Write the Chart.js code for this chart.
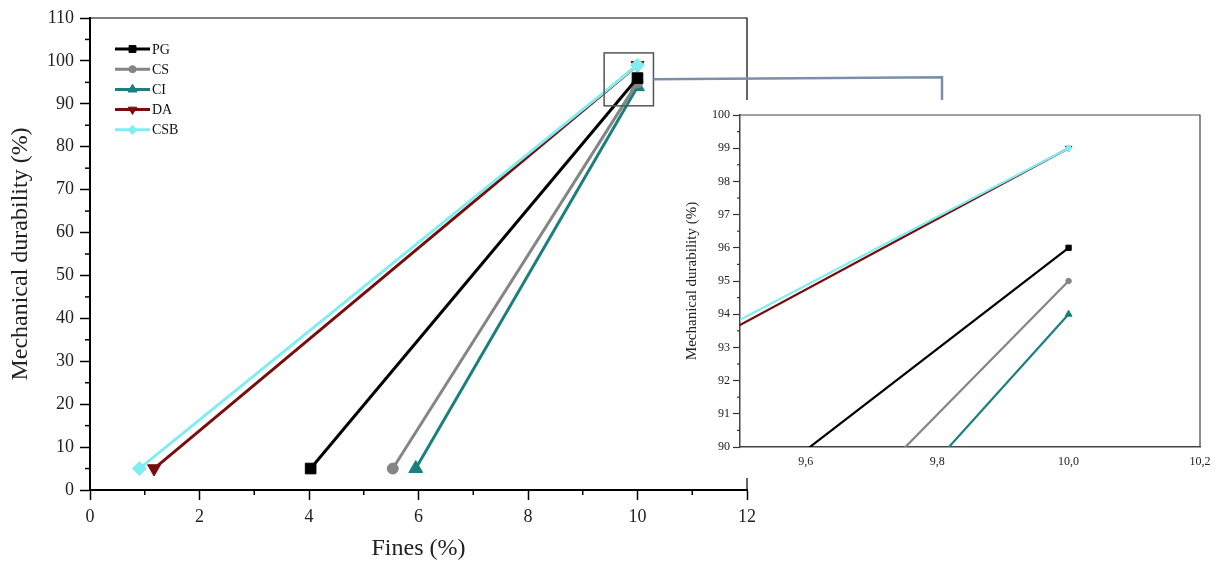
<!DOCTYPE html>
<html>
<head>
<meta charset="utf-8">
<script src="https://cdn.jsdelivr.net/npm/chart.js@4.4.1/dist/chart.umd.min.js"></script>
<style>
  html, body { margin: 0; padding: 0; background: #fff; }
  #wrap { position: relative; width: 1223px; height: 564px; }
  #main { position: absolute; left: 0; top: 0; }
  #inset-box { position: absolute; left: 680px; top: 100px; width: 543px; height: 378px; background: #fff; }
</style>
</head>
<body>
<div id="wrap">
  <canvas id="main" width="1223" height="564"></canvas>
  <div id="inset-box"><canvas id="inset" width="543" height="378"></canvas></div>
</div>
<script>
// ---- data ----
const seriesNames = ['PG', 'CS', 'CI', 'DA', 'CSB'];
const pgFines = [4.03, 10];   const pgDurability = [5, 96];
const csFines = [5.53, 10];   const csDurability = [5, 95];
const ciFines = [5.95, 10];   const ciDurability = [5, 94];
const daFines = [1.17, 10];   const daDurability = [5, 99];
const csbFines = [0.9, 10];   const csbDurability = [5, 99];

const mainXTicks = [0, 2, 4, 6, 8, 10, 12];
const mainYTicks = [0, 10, 20, 30, 40, 50, 60, 70, 80, 90, 100, 110];
const insetXTicks = [9.6, 9.8, 10.0, 10.2];
const insetYTicks = [90, 91, 92, 93, 94, 95, 96, 97, 98, 99, 100];
const insetXRange = [9.5, 10.2];
const insetYRange = [90, 100];

// ---- styles ----
const colors = ['#000000', '#858585', '#1b7f7f', '#7a0c0c', '#80eef0'];
const markers = ['rect', 'circle', 'triangle', 'triangle', 'rectRot'];
const markerRot = [0, 0, 0, 180, 0];
const markerSize = [7.5, 5.5, 8, 7.5, 7];
const serif = "'Liberation Serif', 'Times New Roman', serif";

const allFines = [pgFines, csFines, ciFines, daFines, csbFines];
const allDur = [pgDurability, csDurability, ciDurability, daDurability, csbDurability];

function makeDatasets(lineW, scale, isInset) {
  return seriesNames.map((name, i) => ({
    label: name,
    data: allFines[i].map((f, j) => ({ x: f, y: allDur[i][j] })),
    borderColor: colors[i],
    backgroundColor: colors[i],
    borderWidth: lineW,
    pointStyle: markers[i],
    rotation: markerRot[i],
    pointRadius: isInset ? allFines[i].map(f => f === 10 ? markerSize[i] * scale : 0) : markerSize[i] * scale,
    pointBorderWidth: 1,
    tension: 0,
    order: name === 'CSB' ? -1 : i,
    clip: isInset ? 0 : undefined,
  }));
}

// minor tick marks between the labelled ones
const minorTicks = {
  id: 'minorTicks',
  afterDraw(chart, args, opts) {
    const ctx = chart.ctx;
    const xs = chart.scales.x, ys = chart.scales.y;
    ctx.save();
    ctx.strokeStyle = opts.color || '#000';
    ctx.lineWidth = opts.width || 1.2;
    if (opts.xStep) {
      for (let v = xs.min; v <= xs.max + 1e-9; v += opts.xStep) {
        if (Math.abs(v / opts.xMajor - Math.round(v / opts.xMajor)) < 1e-6) continue;
        const px = xs.getPixelForValue(v);
        ctx.beginPath(); ctx.moveTo(px, ys.bottom); ctx.lineTo(px, ys.bottom + opts.len); ctx.stroke();
      }
    }
    if (opts.yStep) {
      for (let v = ys.min; v <= ys.max + 1e-9; v += opts.yStep) {
        if (Math.abs(v / opts.yMajor - Math.round(v / opts.yMajor)) < 1e-6) continue;
        const py = ys.getPixelForValue(v);
        ctx.beginPath(); ctx.moveTo(xs.left, py); ctx.lineTo(xs.left - opts.len, py); ctx.stroke();
      }
    }
    ctx.restore();
  }
};

// top / right lines of the box
const frame = {
  id: 'frame',
  afterDraw(chart, args, opts) {
    const { left, right, top, bottom } = chart.chartArea;
    const ctx = chart.ctx;
    ctx.save();
    ctx.strokeStyle = opts.color || '#000';
    ctx.lineWidth = opts.width || 1;
    ctx.beginPath();
    ctx.moveTo(left, top); ctx.lineTo(right, top); ctx.lineTo(right, bottom);
    ctx.stroke();
    ctx.restore();
  }
};

// legend inside the plot, drawn by hand
const insideLegend = {
  id: 'insideLegend',
  afterDraw(chart) {
    const ctx = chart.ctx;
    const x0 = 115, x1 = 150, y0 = 49, dy = 20.2;
    ctx.save();
    chart.data.datasets.forEach((ds, i) => {
      const y = y0 + i * dy;
      ctx.strokeStyle = ds.borderColor;
      ctx.lineWidth = 3;
      ctx.beginPath(); ctx.moveTo(x0, y); ctx.lineTo(x1, y); ctx.stroke();
      ctx.fillStyle = ds.backgroundColor;
      ctx.strokeStyle = ds.borderColor;
      ctx.lineWidth = 1;
      Chart.helpers.drawPoint(ctx, { pointStyle: ds.pointStyle, rotation: ds.rotation, radius: markerSize[i] * 0.65, borderWidth: 1 }, (x0 + x1) / 2, y);
      ctx.fillStyle = '#111';
      ctx.font = '14px ' + serif;
      ctx.textBaseline = 'middle';
      ctx.fillText(ds.label, x1 + 2, y + 1);
    });
    ctx.restore();
  }
};

// zoom box around the end points and the line to the inset
const zoomMark = {
  id: 'zoomMark',
  afterDraw(chart) {
    const xs = chart.scales.x, ys = chart.scales.y;
    const ctx = chart.ctx;
    const bx1 = xs.getPixelForValue(insetXRange[0]) - 6;
    const bx2 = xs.getPixelForValue(insetXRange[1]) + 5;
    const by1 = ys.getPixelForValue(insetYRange[1]) - 8;
    const by2 = ys.getPixelForValue(insetYRange[0]) + 2;
    ctx.save();
    ctx.strokeStyle = '#555';
    ctx.lineWidth = 1.5;
    ctx.strokeRect(bx1, by1, bx2 - bx1, by2 - by1);
    const midY = (by1 + by2) / 2;
    ctx.strokeStyle = '#7b8fa9';
    ctx.lineWidth = 2.5;
    ctx.beginPath();
    ctx.moveTo(bx2, midY);
    ctx.lineTo(942, midY - 2);
    ctx.lineTo(942, 100);
    ctx.stroke();
    ctx.restore();
  }
};

function fixedTicks(list) {
  return scale => { scale.ticks = list.map(v => ({ value: v })); };
}

new Chart(document.getElementById('main'), {
  type: 'line',
  data: { datasets: makeDatasets(3, 1, false) },
  options: {
    responsive: false,
    animation: false,
    devicePixelRatio: 1,
    layout: { padding: { left: 0, top: 18, right: 476, bottom: 0 } },
    plugins: {
      legend: { display: false },
      tooltip: { enabled: false },
      minorTicks: { xStep: 1, xMajor: 2, yStep: 5, yMajor: 10, len: 5, width: 1.5 },
      frame: { color: '#000', width: 1.2 },
    },
    scales: {
      x: {
        type: 'linear', min: 0, max: 12,
        afterBuildTicks: fixedTicks(mainXTicks),
        afterFit: s => { s.height = 74; },
        ticks: { color: '#222', font: { family: serif, size: 18 }, padding: 6 },
        grid: { drawOnChartArea: false, drawTicks: true, tickLength: 10, tickColor: '#000', tickWidth: 1.5 },
        border: { display: true, color: '#000', width: 2 },
        title: { display: true, text: 'Fines (%)', color: '#222', font: { family: serif, size: 24 }, padding: { top: 0, bottom: 1 } },
      },
      y: {
        type: 'linear', min: 0, max: 110,
        afterBuildTicks: fixedTicks(mainYTicks),
        afterFit: s => { s.width = 90; },
        ticks: { color: '#222', font: { family: serif, size: 18 }, padding: 6 },
        grid: { drawOnChartArea: false, drawTicks: true, tickLength: 10, tickColor: '#000', tickWidth: 1.5 },
        border: { display: true, color: '#000', width: 2 },
        title: { display: true, text: 'Mechanical durability (%)', color: '#222', font: { family: serif, size: 24 }, padding: { top: 6, bottom: 0 } },
      },
    },
  },
  plugins: [minorTicks, frame, insideLegend, zoomMark],
});

new Chart(document.getElementById('inset'), {
  type: 'line',
  data: { datasets: makeDatasets(2.2, 0.5, true) },
  options: {
    responsive: false,
    animation: false,
    devicePixelRatio: 1,
    layout: { padding: { left: 0, top: 15, right: 23, bottom: 0 } },
    plugins: {
      legend: { display: false },
      tooltip: { enabled: false },
      minorTicks: { yStep: 0.5, yMajor: 1, len: 3, width: 1.2, color: '#333' },
      frame: { color: '#444', width: 1.2 },
    },
    scales: {
      x: {
        type: 'linear', min: insetXRange[0], max: insetXRange[1],
        afterBuildTicks: fixedTicks(insetXTicks),
        afterFit: s => { s.height = 31; },
        ticks: { color: '#222', font: { family: serif, size: 12 }, padding: 8, callback: v => v.toFixed(1).replace('.', ',') },
        grid: { drawOnChartArea: false, drawTicks: false },
        border: { display: true, color: '#444', width: 1.5 },
      },
      y: {
        type: 'linear', min: insetYRange[0], max: insetYRange[1],
        afterBuildTicks: fixedTicks(insetYTicks),
        afterFit: s => { s.width = 60; },
        ticks: { color: '#222', font: { family: serif, size: 12 }, padding: 3 },
        grid: { drawOnChartArea: false, drawTicks: true, tickLength: 7, tickColor: '#333', tickWidth: 1.2 },
        border: { display: true, color: '#444', width: 1.5 },
        title: { display: true, text: 'Mechanical durability (%)', color: '#222', font: { family: serif, size: 15 }, padding: { top: 3, bottom: 0 } },
      },
    },
  },
  plugins: [minorTicks, frame],
});
</script>
</body>
</html>
